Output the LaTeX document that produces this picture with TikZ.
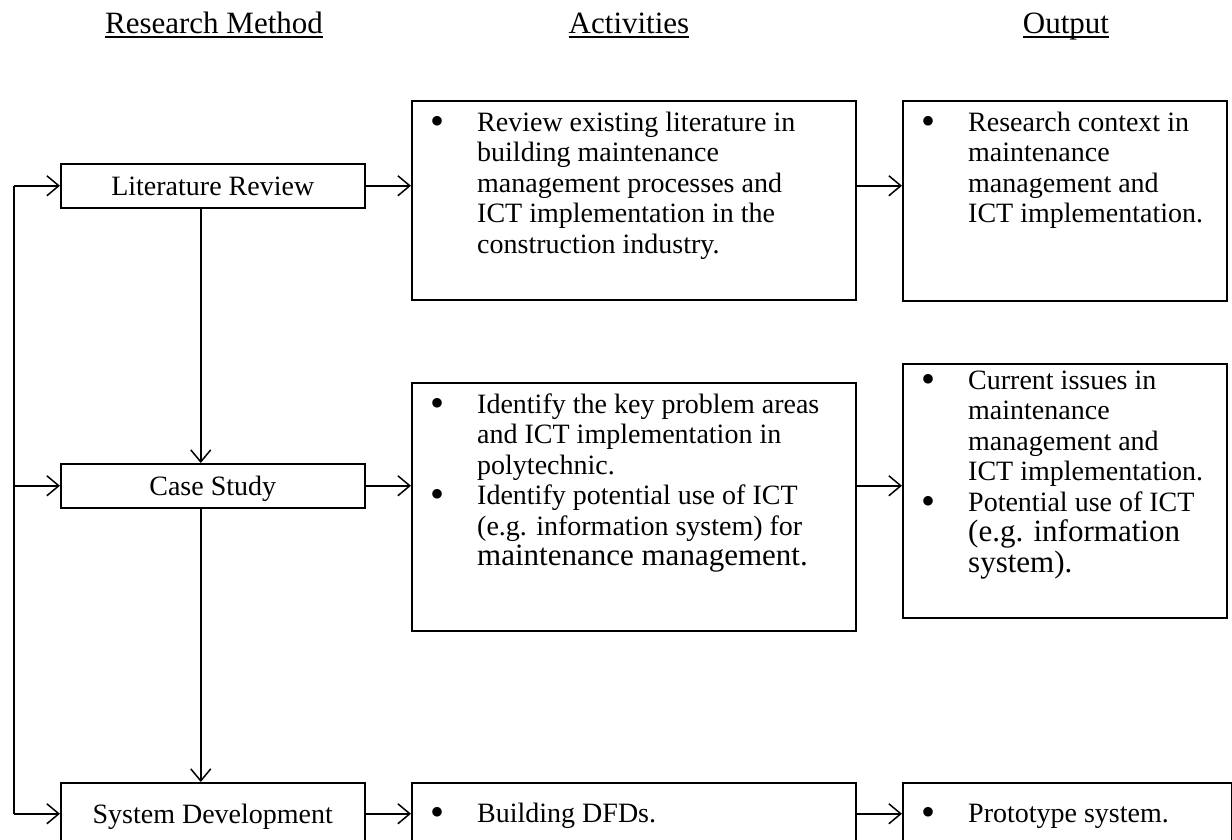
\documentclass[tikz,border=0pt]{standalone}
\usepackage{fontspec}
\setmainfont{Liberation Serif}
\usetikzlibrary{arrows.meta,calc}
\newcommand{\hdr}[1]{\setbox0\hbox{#1}\rlap{\rule[-5pt]{\wd0}{1.6pt}}\box0}
\newcommand{\bdot}{\makebox[46pt][l]{\hspace{-1pt}\raisebox{-3pt}{\fontsize{40}{30}\selectfont\textbullet}}}
\newcommand{\bitem}[1]{{\hangindent=46pt\hangafter=1\noindent\bdot#1\par}}
\newcommand{\txtlines}[1]{\vtop{\hsize=420pt\parindent=0pt\parskip=0pt\fontsize{28}{30.5}\selectfont #1}}
\newcommand{\lgtxt}[1]{{\fontsize{31}{30.5}\selectfont #1}}
\begin{document}
\begin{tikzpicture}[x=1pt,y=-1pt,
  box/.style={draw, rectangle, anchor=north west, inner sep=0pt, line width=1.5pt},
  lbox/.style={box, minimum width=304pt, font=\fontsize{28}{30}\selectfont, text height=19pt, text depth=0pt},
  txt/.style={anchor=base west, inner sep=0pt},
  hd/.style={anchor=base, inner sep=0pt, font=\fontsize{31}{34}\selectfont},
  arr/.style={-{Straight Barb[length=12pt,width=20pt,line width=1.5pt]}, line width=1.5pt},
  ln/.style={line width=1.5pt}]
\path[use as bounding box] (0,0) rectangle (1232,839);
\clip (0,0) rectangle (1232,839);
\fill[white] (0,0) rectangle (1232,839);

% headers
\node[hd] (h1) at (214,33) {\hdr{Research Method}};
\node[hd] (h2) at (629,33) {\hdr{Activities}};
\node[hd] (h3) at (1066,33) {\hdr{Output}};

% left column
\node[lbox, minimum height=44pt] (lit) at (60,163) {Literature Review};
\node[lbox, minimum height=44pt] (cs) at (60,463) {Case Study};
\node[lbox, minimum height=62pt] (sd) at (60,782) {System Development};

% activity boxes
\node[box, minimum width=444pt, minimum height=199pt] (act1) at (411,100) {};
\node[box, minimum width=444pt, minimum height=248pt] (act2) at (411,382) {};
\node[box, minimum width=444pt, minimum height=62pt] (act3) at (411,782) {};

% output boxes
\node[box, minimum width=324pt, minimum height=200pt] (out1) at (902,100) {};
\node[box, minimum width=324pt, minimum height=254pt] (out2) at (902,363) {};
\node[box, minimum width=329pt, minimum height=62pt] (out3) at (902,782) {};

% texts
\node[txt] (t1) at ($(act1.north west)+(20,31)$) {\txtlines{%
\bitem{Review existing literature in\newline building maintenance\newline management processes and\newline ICT implementation in the\newline construction industry.}}};
\node[txt] (t2) at ($(act2.north west)+(20,31)$) {\txtlines{%
\bitem{Identify the key problem areas\newline and ICT implementation in\newline polytechnic.}
\bitem{Identify potential use of ICT\newline (e.g. information system) for\newline \lgtxt{maintenance management.}}}};
\node[txt] (t3) at ($(act3.north west)+(20,40)$) {\txtlines{%
\bitem{Building DFDs.}}};
\node[txt] (t4) at ($(out1.north west)+(20,31)$) {\txtlines{%
\bitem{Research context in\newline maintenance\newline management and\newline ICT implementation.}}};
\node[txt] (t5) at ($(out2.north west)+(20,26)$) {\txtlines{%
\bitem{Current issues in\newline maintenance\newline management and\newline ICT implementation.}
\bitem{Potential use of ICT\newline \lgtxt{(e.g. information}\newline \lgtxt{system).}}}};
\node[txt] (t6) at ($(out3.north west)+(20,40)$) {\txtlines{%
\bitem{Prototype system.}}};

% horizontal arrows
\draw[arr] (lit.east) -- (lit.east -| act1.west);
\draw[arr] (act1.east |- lit.east) -- (out1.west |- lit.east);
\draw[arr] (cs.east) -- (cs.east -| act2.west);
\draw[arr] (act2.east |- cs.east) -- (out2.west |- cs.east);
\draw[arr] (sd.east) -- (sd.east -| act3.west);
\draw[arr] (act3.east |- sd.east) -- (out3.west |- sd.east);

% vertical arrows
\draw[arr] ([xshift=-12pt]lit.south) -- ([xshift=-12pt]cs.north);
\draw[arr] ([xshift=-12pt]cs.south) -- ([xshift=-12pt]sd.north);

% feedback loop
\coordinate (lp) at (14,0);
\draw[ln] (lit.west -| lp) -- (sd.west -| lp);
\draw[arr] (lit.west -| lp) -- (lit.west);
\draw[arr] (cs.west -| lp) -- (cs.west);
\draw[arr] (sd.west -| lp) -- (sd.west);
\end{tikzpicture}
\end{document}
